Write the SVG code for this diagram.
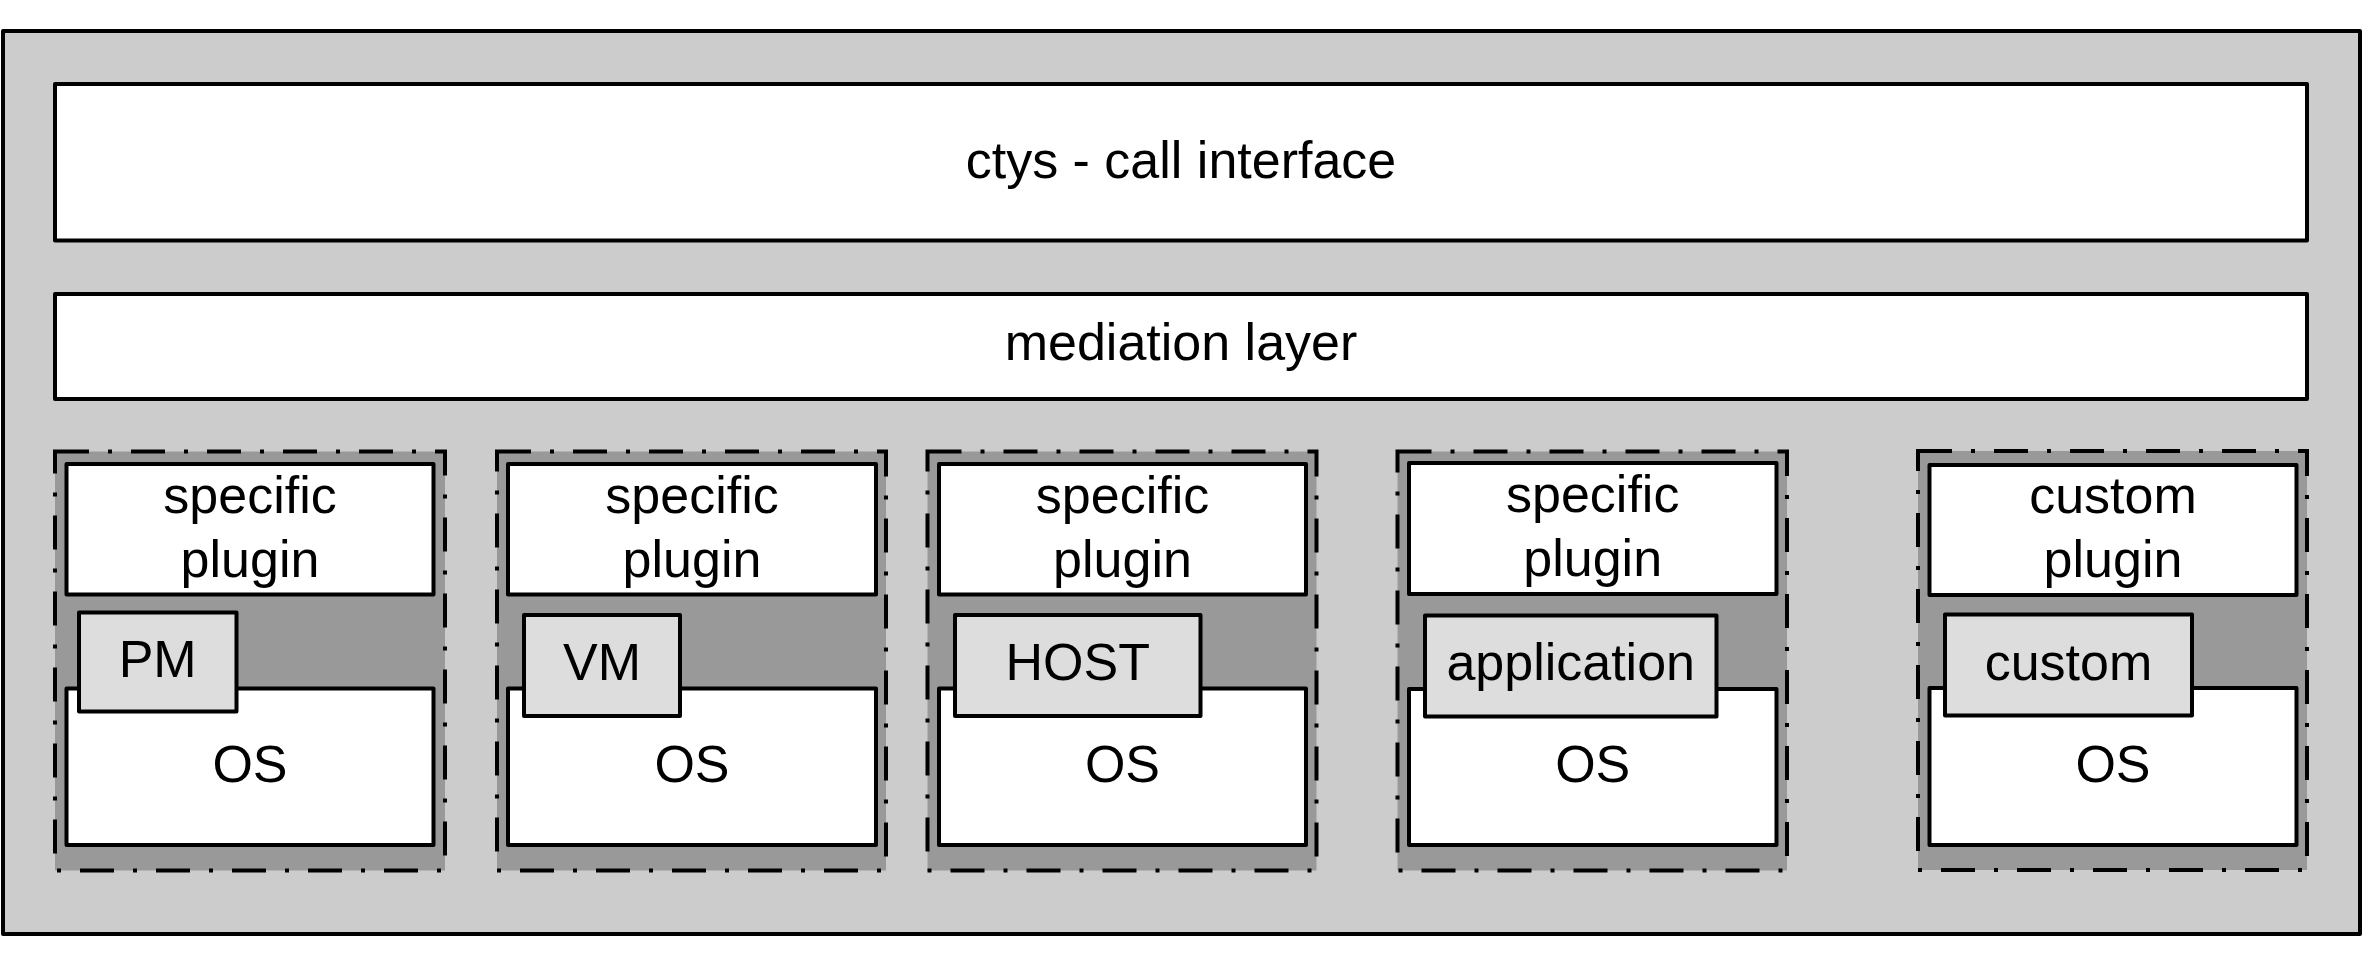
<svg xmlns="http://www.w3.org/2000/svg" width="2363" height="964" viewBox="0 0 2363 964">
  <style>
    .frame { fill: #cccccc; stroke: #000; stroke-width: 4; stroke-linejoin: round; }
    .layer { fill: #ffffff; stroke: #000; stroke-width: 4; stroke-linejoin: round; }
    .zone { fill: #999999; stroke: #000; stroke-width: 4; stroke-dasharray: 34 19 4 19; }
    .box { fill: #ffffff; stroke: #000; stroke-width: 4; stroke-linejoin: round; }
    .tag { fill: #dddddd; stroke: #000; stroke-width: 4; stroke-linejoin: round; }
    text { font-family: "Liberation Sans", Arial, sans-serif; font-size: 52px; fill: #000; text-anchor: middle; }
  </style>

  <!-- outer frame -->
  <rect id="frame" class="frame" x="3" y="31" width="2357" height="903"/>

  <!-- top layers -->
  <g id="call-interface">
    <rect class="layer" x="55" y="84" width="2252" height="156.5"/>
    <text x="1181" y="178">ctys - call interface</text>
  </g>
  <g id="mediation-layer">
    <rect class="layer" x="55" y="294" width="2252" height="105"/>
    <text x="1181" y="360">mediation layer</text>
  </g>

  <!-- plugin stacks -->
  <g id="stack-pm">
    <rect class="zone" x="55" y="451.5" width="390" height="419"/>
    <rect class="box" x="66.5" y="464" width="367" height="130.5"/>
    <text x="250" y="513">specific</text>
    <text x="250" y="577">plugin</text>
    <rect class="box" x="66.5" y="688.5" width="367" height="156.5"/>
    <text x="250" y="782">OS</text>
    <rect class="tag" x="79" y="612.5" width="157.5" height="99"/>
    <text x="157.7" y="677">PM</text>
  </g>

  <g id="stack-vm">
    <rect class="zone" x="497" y="451.5" width="389" height="419"/>
    <rect class="box" x="508" y="464" width="368" height="130.5"/>
    <text x="692" y="513">specific</text>
    <text x="692" y="577">plugin</text>
    <rect class="box" x="508" y="688.5" width="368" height="156.5"/>
    <text x="692" y="782">OS</text>
    <rect class="tag" x="524" y="615" width="156" height="101"/>
    <text x="602" y="680">VM</text>
  </g>

  <g id="stack-host">
    <rect class="zone" x="927.5" y="451.5" width="389" height="419"/>
    <rect class="box" x="939" y="464" width="367" height="130.5"/>
    <text x="1122.5" y="513">specific</text>
    <text x="1122.5" y="577">plugin</text>
    <rect class="box" x="939" y="688.5" width="367" height="156.5"/>
    <text x="1122.5" y="782">OS</text>
    <rect class="tag" x="955" y="615" width="245.5" height="101"/>
    <text x="1077.7" y="680">HOST</text>
  </g>

  <g id="stack-application">
    <rect class="zone" x="1397.5" y="451.5" width="389.5" height="419"/>
    <rect class="box" x="1409" y="463" width="367.5" height="131"/>
    <text x="1592.7" y="512">specific</text>
    <text x="1592.7" y="576">plugin</text>
    <rect class="box" x="1409" y="689" width="367.5" height="156"/>
    <text x="1592.7" y="782">OS</text>
    <rect class="tag" x="1425" y="615.5" width="291.5" height="101"/>
    <text x="1570.7" y="680">application</text>
  </g>

  <g id="stack-custom">
    <rect class="zone" x="1918" y="451" width="389" height="419"/>
    <rect class="box" x="1929.5" y="465" width="367" height="130"/>
    <text x="2113" y="513">custom</text>
    <text x="2113" y="577">plugin</text>
    <rect class="box" x="1929.5" y="688" width="367" height="157"/>
    <text x="2113" y="782">OS</text>
    <rect class="tag" x="1945" y="614.5" width="247" height="101"/>
    <text x="2068.5" y="680">custom</text>
  </g>

  <g id="connectors"/>
</svg>
